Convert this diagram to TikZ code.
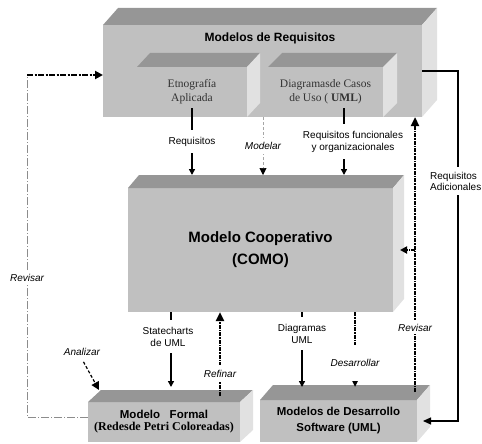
\documentclass[tikz,border=0pt]{standalone}
\usepackage{fontspec}
\setmainfont{Liberation Sans}
\newfontfamily\romana{Liberation Serif}
\usetikzlibrary{arrows.meta,calc}

\definecolor{frente}{RGB}{192,192,192}
\definecolor{techo}{RGB}{150,150,150}
\definecolor{lado}{RGB}{225,225,225}

\tikzset{
    frontal/.style={fill=frente, inner sep=0pt, outer sep=0pt, align=center},
    etiq/.style={fill=white, inner xsep=1pt, inner ysep=7pt, align=center, font=\fontsize{10}{12}\selectfont},
    etiqit/.style={etiq, font=\fontsize{10}{12}\selectfont\itshape},
    flecha/.style={line width=1.6pt, -{Triangle[length=6pt,width=6pt]}},
    punteado/.style={line width=2.6pt, dash pattern=on 4pt off 1pt on 1.5pt off 1pt, -{Triangle[length=9pt,width=8pt]}},
    modelar/.style={line width=.6pt, draw=black!35, dash pattern=on 3pt off 2pt, -{Triangle[length=7pt,width=7pt,black]}},
    trazos/.style={line width=1.2pt, dash pattern=on 3pt off 2pt, -{Triangle[length=8pt,width=8pt]}},
    gris/.style={line width=.6pt, draw=black!45, dash pattern=on 8pt off 2pt on 1pt off 2pt},
    revgrueso/.style={line width=2pt, dash pattern=on 6pt off 1.5pt on 2pt off 1.5pt, -{Triangle[length=8pt,width=8pt]}}
}

% caras superior y lateral de una caja
\newcommand{\caras}[3]{%
    \fill[techo] (#1.north west) -- ++(#2,-#3) -- ([shift={(#2,-#3)}]#1.north east) -- (#1.north east) -- cycle;
    \fill[lado] (#1.north east) -- ([shift={(#2,-#3)}]#1.north east) -- ([shift={(#2,-#3)}]#1.south east) -- (#1.south east) -- cycle;
}

\begin{document}
\begin{tikzpicture}[x=1pt, y=-1pt]
    \useasboundingbox (0,0) rectangle (482,444);

    % cajas
    \node[frontal, minimum width=319pt, minimum height=92pt] (mreq) at (262.5,71) {};
    \caras{mreq}{15}{17}
    \node[font=\fontsize{12}{14}\selectfont\bfseries] at (270,38) {Modelos de Requisitos};

    \node[frontal, minimum width=110pt, minimum height=50pt, text=black!80, font=\romana\fontsize{11.5}{14}\selectfont] (etno) at (192,92) {Etnografía\\Aplicada};
    \caras{etno}{13}{14}
    \node[frontal, minimum width=115pt, minimum height=50pt, text=black!80, font=\romana\fontsize{11.5}{14}\selectfont] (diag) at (325.5,92) {Diagramasde Casos\\de Uso ( \textbf{UML})};
    \caras{diag}{14}{14}

    \node[frontal, minimum width=265pt, minimum height=124pt, font=\fontsize{15}{22}\selectfont\bfseries] (coop) at (260.5,250) {Modelo Cooperativo\\(COMO)};
    \caras{coop}{11}{13}

    \node[frontal, minimum width=152pt, minimum height=40pt] (formal) at (164,422) {\fontsize{11.5}{17}\selectfont\bfseries Modelo\ \ \ Formal\\\romana\fontsize{12}{17}\selectfont\bfseries (Redesde Petri Coloreadas)};
    \caras{formal}{13}{12}

    \node[frontal, minimum width=157pt, minimum height=42pt, font=\fontsize{11.5}{16}\selectfont\bfseries] (desa) at (338.5,421) {Modelos de Desarrollo\\Software (UML)};
    \caras{desa}{13}{15}

    % columnas de las flechas
    \coordinate (cMod) at (263,0);
    \coordinate (cFun) at (344,0);
    \coordinate (cAdi) at (458,0);
    \coordinate (cRev) at (415,0);
    \coordinate (cSta) at (171,0);
    \coordinate (cRef) at (220,0);
    \coordinate (cDia) at (302,0);
    \coordinate (cDes) at (355,0);
    \coordinate (cEsq) at (27,75);

    % flechas hacia el modelo cooperativo
    \draw[flecha] ([yshift=9pt]etno.south) -- node[etiq] {Requisitos} ([yshift=13pt]coop.north -| etno.south);
    \draw[modelar] (mreq.south -| cMod) -- node[etiqit, inner ysep=4pt] {Modelar} ([yshift=13pt]coop.north -| cMod);
    \draw[flecha] ([yshift=9pt]diag.south -| cFun) -- node[etiq, xshift=9pt] {Requisitos funcionales\\y organizacionales} ([yshift=13pt]coop.north -| cFun);

    % requisitos adicionales
    \draw[line width=1.2pt, -{Triangle[length=8pt,width=7pt]}] (mreq.east) -- (mreq.east -| cAdi) -- (desa.east -| cAdi) -- ([xshift=6pt]desa.east);
    \node[anchor=east, fill=white, inner xsep=0pt, inner ysep=5pt, align=left, font=\fontsize{10}{11}\selectfont] (adic) at (481.5,181) {Requisitos\\Adicionales};

    % revisar (derecha)
    \draw[punteado] ([yshift=8pt]desa.north -| cRev) -- node[etiqit, pos=0.234, inner ysep=3pt] {Revisar} (mreq.south -| cRev);
    \draw[punteado, -{Triangle[length=7pt,width=7pt]}] (coop.east -| cRev) -- ([xshift=7pt]coop.east);

    % revisar (izquierda)
    \draw[gris] ([yshift=5pt]formal.west) -| node[etiqit, pos=0.703, inner ysep=3pt] {Revisar} (cEsq);
    \draw[revgrueso] (cEsq) -- (cEsq -| mreq.west);

    % analizar
    \node[font=\fontsize{10}{12}\selectfont\itshape] (ana) at (82,352) {Analizar};
    \draw[trazos, shorten <=3pt] (ana.south) -- ([shift={(11,-12)}]formal.north west);

    % hacia abajo
    \draw[flecha] (coop.south -| cSta) -- node[etiq, pos=0.33, xshift=-3pt] {Statecharts\\de UML} ([yshift=15pt]formal.north -| cSta);
    \draw[punteado] ([yshift=6pt]formal.north -| cRef) -- node[etiqit, pos=0.265, inner ysep=5pt] {Refinar} (coop.south -| cRef);
    \draw[flecha] (coop.south -| cDia) -- node[etiq, pos=0.29] {Diagramas\\UML} ([yshift=13pt]desa.north -| cDia);
    \draw[punteado] (coop.south -| cDes) -- node[etiqit, pos=0.68, inner ysep=14pt] {Desarrollar} ([yshift=13pt]desa.north -| cDes);
\end{tikzpicture}
\end{document}
